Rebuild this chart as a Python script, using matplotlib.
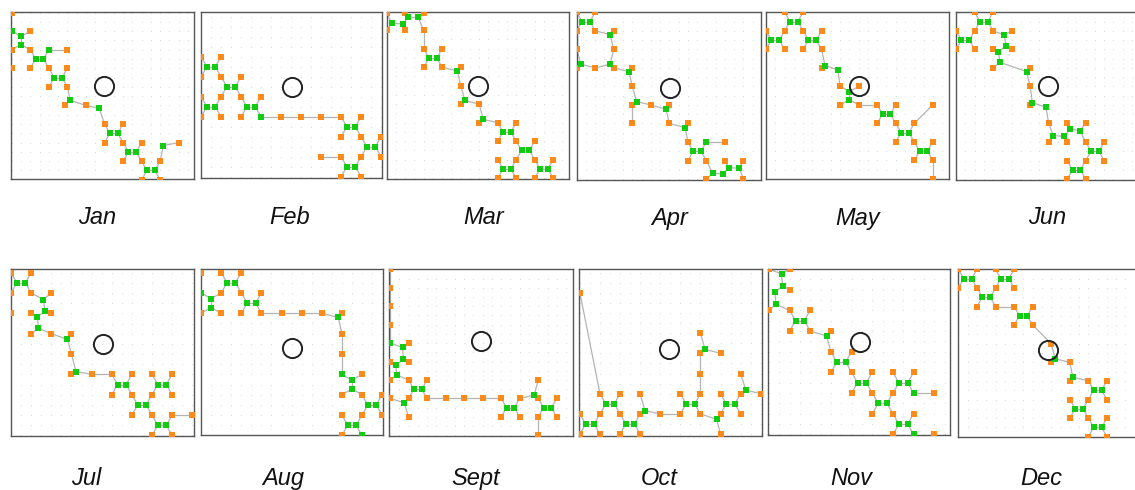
import matplotlib
matplotlib.use("Agg")
import matplotlib.pyplot as plt
import numpy as np

# ---------------- data (lattice units, y grows downward) ----------------
months = ["Jan", "Feb", "Mar", "Apr", "May", "Jun",
          "Jul", "Aug", "Sept", "Oct", "Nov", "Dec"]

# horizontal "X" motifs: two green nodes with four orange corners
h_motifs = {
    "Jan": [(1.5, 2.5), (2.5, 3.5), (5.5, 6.5), (6.5, 7.5), (7.5, 8.5)],
    "Feb": [(0.5, 2.5), (1.5, 3.5), (0.5, 4.5), (2.5, 4.5), (7.5, 5.5), (8.5, 6.5), (7.5, 7.5)],
    "Mar": [(2.5, 2.5), (6.5, 6.5), (7.5, 7.5), (6.5, 8.5), (8.5, 8.5)],
    "Apr": [(0.5, 0.5), (6.5, 7.5)],
    "May": [(1.5, 0.5), (0.5, 1.5), (2.5, 1.5), (6.5, 5.5), (7.5, 6.5), (8.5, 7.5)],
    "Jun": [(1.5, 0.5), (0.5, 1.5), (7.5, 7.5), (6.5, 8.5)],
    "Jul": [(0.5, 0.5), (5.5, 5.5), (7.5, 5.5), (6.5, 6.5), (7.5, 7.5)],
    "Aug": [(1.5, 0.5), (2.5, 1.5), (8.5, 6.5), (7.5, 7.5)],
    "Sept": [(1.5, 6.5), (6.5, 7.5), (8.5, 7.5)],
    "Oct": [(1.5, 6.5), (0.5, 7.5), (2.5, 7.5), (5.5, 6.5), (7.5, 6.5)],
    "Nov": [(1.5, 2.5), (3.5, 4.5), (4.5, 5.5), (5.5, 6.5), (6.5, 5.5), (6.5, 7.5)],
    "Dec": [(0.5, 0.5), (2.5, 0.5), (1.5, 1.5), (3.5, 2.5), (7.5, 6.5), (6.5, 7.5), (7.5, 8.5)],
}

# vertical motifs
v_motifs = {
    "Jan": [(0.5, 1.5)],
    "May": [(4.5, 4.5)],
    "Aug": [(0.5, 1.5), (7.5, 5.5)],
}

extra_green = {
    "Jan": [(0, 1), (2, 2), (3.15, 4.72), (4.72, 5.15), (8.17, 7.16)],
    "Feb": [(3, 5)],
    "Mar": [(0.27, 0.63), (0.86, 0.66), (1.17, 0.31), (1.71, 0.31), (3.82, 3.2), (4.23, 4.8), (5.22, 5.82)],
    "Apr": [(1.8, 1.2), (0.23, 2.8), (1.8, 2.8), (2.82, 3.2), (3.24, 4.82), (4.82, 5.23), (5.85, 6.22),
            (7, 7), (7.34, 8.69), (7.91, 8.72), (8.2, 8.38), (8.78, 8.42)],
    "May": [(3.18, 2.88), (3.87, 3.11)],
    "Jun": [(2.6, 1.22), (2.7, 1.82), (2.28, 2.12), (2.37, 2.7), (3.81, 3.2), (4.12, 4.87), (4.86, 5.13),
            (5.25, 6.65), (5.85, 6.7), (6.15, 6.3), (6.69, 6.38)],
    "Jul": [(1.6, 1.32), (1.69, 1.9), (1.3, 2.16), (1.36, 2.74), (2.8, 3.28), (3.22, 4.86)],
    "Aug": [(0, 1), (7, 5), (6.82, 2.2), (8, 8)],
    "Sept": [(0, 4), (0.68, 4.23), (0.72, 4.88), (0.32, 5.19), (0.36, 5.73), (0.76, 7.23), (7.78, 6.82)],
    "Oct": [(3.24, 6.84), (6.23, 3.8), (6.81, 7.27), (8.26, 5.82)],
    "Nov": [(0.61, 0.24), (0.66, 0.82), (0.29, 1.13), (0.34, 1.71), (2.79, 3.24), (7, 6), (7, 8)],
    "Dec": [(5.21, 4.81), (6.16, 5.8)],
}

extra_orange = {
    "Jan": [(0, 0), (3, 2), (0, 3), (2.87, 4.97), (4, 5), (9, 7)],
    "Feb": [(4, 5), (5, 5), (6, 5), (6, 7)],
    "Mar": [(0, 0.05), (1, 0.05), (2, 0.05), (0, 1), (1, 1), (2, 1), (4, 3), (4, 4), (4, 5), (5, 5), (5, 6)],
    "Apr": [(2, 1), (2, 2), (0, 2), (0, 3), (1, 3), (2, 3), (3, 3), (3, 4), (3, 5), (4, 5), (3, 6),
            (5, 5), (5, 6), (6, 6), (8, 7), (8, 8), (9, 8), (7, 9), (9, 9)],
    "May": [(3, 3), (6, 5), (9, 5), (9, 9)],
    "Jun": [(3, 1), (2, 2), (3, 2), (2, 3), (4, 3), (4, 4), (4, 5), (5, 6), (5, 7), (6, 7), (6, 6), (7, 6)],
    "Jul": [(2, 1), (2, 2), (1, 2), (0, 2), (1, 3), (2, 3), (3, 3), (3, 4), (3, 5), (4, 5), (9, 7)],
    "Aug": [(0, 0), (4, 2), (5, 2), (6, 2), (7, 2), (7, 3), (7, 4)],
    "Sept": [(0, 0), (0, 1), (0, 2), (0, 3), (1, 4), (1, 5), (0, 5), (0, 6), (0, 7), (1, 8),
             (3, 7), (4, 7), (5, 7), (8, 6), (8, 9)],
    "Oct": [(0, 1), (3, 6), (4, 7), (6, 5), (6, 4), (6, 3), (7, 4), (7, 8), (8, 5), (9, 6)],
    "Nov": [(0, 0), (1, 0), (1, 1), (0, 2), (3, 3), (8, 6), (8, 8)],
    "Dec": [(3, 2), (5, 4), (5, 5), (6, 5), (6, 6)],
}

links = {
    "Jan": [((2, 2), (3, 2)), ((3, 4), (3.15, 4.72)), ((3.15, 4.72), (2.87, 4.97)), ((3.15, 4.72), (4, 5)),
            ((4, 5), (4.72, 5.15)), ((4.72, 5.15), (5, 6)), ((8.17, 7.16), (8, 8)), ((8.17, 7.16), (9, 7))],
    "Feb": [((3, 5), (4, 5)), ((4, 5), (5, 5)), ((5, 5), (6, 5)), ((6, 5), (7, 5)), ((6, 7), (7, 7))],
    "Mar": [((0.27, 0.63), (0.86, 0.66)), ((0.86, 0.66), (1.17, 0.31)), ((1.17, 0.31), (1.71, 0.31)),
            ((1.17, 0.31), (1, 0.05)), ((1.71, 0.31), (2, 0.05)), ((1.71, 0.31), (2, 1)),
            ((0.27, 0.63), (0, 1)), ((0.86, 0.66), (1, 1)), ((0.27, 0.63), (0, 0.05)), ((2, 1), (2, 2)),
            ((3, 3), (3.82, 3.2)), ((3.82, 3.2), (4, 3)), ((3.82, 3.2), (4, 4)), ((4, 4), (4.23, 4.8)),
            ((4.23, 4.8), (4, 5)), ((4.23, 4.8), (5, 5)), ((5, 5), (5.22, 5.82)), ((5.22, 5.82), (5, 6)),
            ((5.22, 5.82), (6, 6))],
    "Apr": [((1, 1), (1.8, 1.2)), ((1.8, 1.2), (2, 1)), ((1.8, 1.2), (2, 2)), ((2, 2), (1.8, 2.8)),
            ((1.8, 2.8), (1, 3)), ((1.8, 2.8), (2, 3)), ((1, 3), (0.23, 2.8)), ((0.23, 2.8), (0, 2)),
            ((0.23, 2.8), (0, 3)), ((0, 1), (0, 2)), ((2, 3), (2.82, 3.2)), ((2.82, 3.2), (3, 3)),
            ((2.82, 3.2), (3, 4)), ((3, 4), (3.24, 4.82)), ((3.24, 4.82), (3, 5)), ((3.24, 4.82), (4, 5)),
            ((3, 5), (3, 6)), ((4, 5), (4.82, 5.23)), ((4.82, 5.23), (5, 5)), ((4.82, 5.23), (5, 6)),
            ((5, 6), (5.85, 6.22)), ((5.85, 6.22), (6, 6)), ((5.85, 6.22), (6, 7)), ((7, 7), (8, 7)),
            ((7, 8), (7.34, 8.69)), ((7.34, 8.69), (7.91, 8.72)), ((7.91, 8.72), (8.2, 8.38)),
            ((8.2, 8.38), (8.78, 8.42)), ((8.2, 8.38), (8, 8)), ((8.78, 8.42), (9, 8)),
            ((8.78, 8.42), (9, 9)), ((7.34, 8.69), (7, 9))],
    "May": [((3, 2), (3.18, 2.88)), ((3.18, 2.88), (3, 3)), ((3.18, 2.88), (3.87, 3.11)),
            ((3.87, 3.11), (4, 4)), ((5, 5), (6, 5)), ((8, 6), (9, 5)), ((9, 8), (9, 9))],
    "Jun": [((2, 1), (2.6, 1.22)), ((2.6, 1.22), (3, 1)), ((2.6, 1.22), (2.7, 1.82)), ((2.7, 1.82), (3, 2)),
            ((2.7, 1.82), (2.28, 2.12)), ((2.28, 2.12), (2, 2)), ((2.28, 2.12), (2.37, 2.7)),
            ((2.37, 2.7), (2, 3)), ((2.37, 2.7), (3.81, 3.2)), ((3.81, 3.2), (4, 3)), ((3.81, 3.2), (4, 4)),
            ((4, 4), (4.12, 4.87)), ((4.12, 4.87), (4, 5)), ((4.12, 4.87), (4.86, 5.13)),
            ((4.86, 5.13), (5, 6)), ((5, 6), (5.25, 6.65)), ((5.25, 6.65), (5, 7)),
            ((5.25, 6.65), (5.85, 6.7)), ((5.85, 6.7), (6, 7)), ((5.85, 6.7), (6.15, 6.3)),
            ((6.15, 6.3), (6, 6)), ((6.15, 6.3), (6.69, 6.38)), ((6.69, 6.38), (7, 6)), ((6.69, 6.38), (7, 7))],
    "Jul": [((1, 1), (1.6, 1.32)), ((1.6, 1.32), (2, 1)), ((1.6, 1.32), (1.69, 1.9)), ((1.69, 1.9), (2, 2)),
            ((1.69, 1.9), (1.3, 2.16)), ((1.3, 2.16), (1, 2)), ((1.3, 2.16), (1.36, 2.74)),
            ((1.36, 2.74), (1, 3)), ((1.36, 2.74), (2, 3)), ((2, 3), (2.8, 3.28)), ((2.8, 3.28), (3, 3)),
            ((2.8, 3.28), (3, 4)), ((3, 4), (3.22, 4.86)), ((3.22, 4.86), (3, 5)), ((3.22, 4.86), (4, 5)),
            ((4, 5), (5, 5)), ((8, 7), (9, 7))],
    "Aug": [((3, 2), (4, 2)), ((4, 2), (5, 2)), ((5, 2), (6, 2)), ((6, 2), (6.82, 2.2)), ((6.82, 2.2), (7, 2)),
            ((6.82, 2.2), (7, 3)), ((7, 3), (7, 4)), ((7, 4), (7, 5))],
    "Sept": [((0, 0), (0, 1)), ((0, 1), (0, 2)), ((0, 2), (0, 3)), ((0, 3), (0, 4)), ((0, 4), (0.68, 4.23)),
             ((0.68, 4.23), (1, 4)), ((0.68, 4.23), (0.72, 4.88)), ((0.72, 4.88), (1, 5)),
             ((0.72, 4.88), (0.32, 5.19)), ((0.32, 5.19), (0, 5)), ((0.32, 5.19), (0.36, 5.73)),
             ((0.36, 5.73), (0, 6)), ((0.36, 5.73), (1, 6)), ((1, 7), (0.76, 7.23)), ((0.76, 7.23), (0, 7)),
             ((0.76, 7.23), (1, 8)), ((2, 7), (3, 7)), ((3, 7), (4, 7)), ((4, 7), (5, 7)), ((5, 7), (6, 7)),
             ((7, 7), (7.78, 6.82)), ((7.78, 6.82), (8, 6)), ((7.78, 6.82), (8, 7)), ((8, 8), (8, 9))],
    "Oct": [((0, 1), (1, 6)), ((3, 6), (3.24, 6.84)), ((3.24, 6.84), (3, 7)), ((3.24, 6.84), (4, 7)),
            ((4, 7), (5, 7)), ((6, 6), (6, 5)), ((6, 5), (6, 4)), ((6, 4), (6.23, 3.8)), ((6.23, 3.8), (6, 3)),
            ((6.23, 3.8), (7, 4)), ((6, 7), (6.81, 7.27)), ((6.81, 7.27), (7, 7)), ((6.81, 7.27), (7, 8)),
            ((8, 6), (8.26, 5.82)), ((8.26, 5.82), (8, 5)), ((8.26, 5.82), (9, 6))],
    "Nov": [((0.61, 0.24), (0, 0)), ((0.61, 0.24), (1, 0)), ((0.61, 0.24), (0.66, 0.82)),
            ((0.66, 0.82), (1, 1)), ((0.66, 0.82), (0.29, 1.13)), ((0.29, 1.13), (0.34, 1.71)),
            ((0.34, 1.71), (0, 2)), ((0.34, 1.71), (1, 2)), ((2, 3), (2.79, 3.24)), ((2.79, 3.24), (3, 3)),
            ((2.79, 3.24), (3, 4)), ((7, 6), (8, 6))],
    "Dec": [((2, 2), (3, 2)), ((4, 3), (5, 4)), ((5, 4), (5.21, 4.81)), ((5.21, 4.81), (5, 5)),
            ((5.21, 4.81), (6, 5)), ((6, 5), (6.16, 5.8)), ((6.16, 5.8), (6, 6)), ((6.16, 5.8), (7, 6))],
}

# position of the highlight ring in each panel
rings = {
    "Jan": (4.96, 3.93), "Feb": (4.53, 3.53), "Mar": (4.95, 4.02), "Apr": (5.04, 4.06),
    "May": (5.04, 3.98), "Jun": (4.98, 3.97), "Jul": (4.55, 3.52), "Aug": (4.5, 3.69),
    "Sept": (4.9, 3.89), "Oct": (4.42, 3.8), "Nov": (4.4, 3.52), "Dec": (4.85, 4.33),
}

# visible window of each panel (xmin, xmax, ymax, ymin)
views = {
    "Jan": (-0.04, 9.84, 8.96, -0.05), "Feb": (-0.02, 9.03, 8.08, -0.22),
    "Mar": (0.0, 9.87, 9.06, 0.0), "Apr": (0.0, 9.93, 9.05, 0.0),
    "May": (-0.02, 9.89, 9.02, 0.0), "Jun": (-0.02, 9.77, 9.05, 0.0),
    "Jul": (-0.02, 9.1, 8.03, -0.18), "Aug": (-0.02, 9.06, 7.98, -0.16),
    "Sept": (-0.04, 9.86, 9.02, -0.02), "Oct": (-0.03, 9.05, 8.08, -0.18),
    "Nov": (-0.03, 8.76, 8.03, 0.0), "Dec": (-0.04, 9.62, 9.0, 0.0),
}

# ---------------- layout (pixels) ----------------
W, H = 1135, 490
panel_px = {
    "Jan": (11, 194.3, 11.7, 179), "Feb": (200.7, 381.7, 12.3, 178.3),
    "Mar": (386.7, 569.3, 11.7, 179.3), "Apr": (576.7, 760.7, 12.3, 180),
    "May": (765.7, 949.3, 12.3, 179.3), "Jun": (955.7, 1137, 12.3, 180),
    "Jul": (10.7, 194.3, 269, 436), "Aug": (200.7, 383.3, 269.3, 435),
    "Sept": (389.3, 572.7, 269, 435.7), "Oct": (579.3, 761.7, 269, 435.7),
    "Nov": (768.3, 950, 269, 435), "Dec": (957.7, 1137, 269.3, 436.7),
}
label_px = {
    "Jan": (97, 218), "Feb": (290, 218), "Mar": (484, 218), "Apr": (670, 218),
    "May": (858, 218), "Jun": (1047, 218), "Jul": (86, 478), "Aug": (283, 478),
    "Sept": (476, 478), "Oct": (659, 478), "Nov": (851, 478), "Dec": (1041, 478),
}

ORANGE = "#ff8a1c"
GREEN = "#12cc12"
EDGE = "#b4b4b4"

fig = plt.figure(figsize=(W / 100, H / 100), dpi=100)


def key(p):
    return (round(p[0], 3), round(p[1], 3))


for m in months:
    x0, x1, y0, y1 = panel_px[m]
    ax = fig.add_axes([x0 / W, 1 - y1 / H, (x1 - x0) / W, (y1 - y0) / H])
    xmin, xmax, ymax, ymin = views[m]
    ax.set_xlim(xmin, xmax)
    ax.set_ylim(ymax, ymin)
    ax.set_xticks([])
    ax.set_yticks([])
    for s in ax.spines.values():
        s.set_color("#555555")
        s.set_linewidth(1.0)

    # faint background dot grid
    gx = np.arange(np.ceil(xmin * 2) / 2, xmax, 0.5)
    gy = np.arange(np.ceil(ymin * 2) / 2, ymax, 0.5)
    GX, GY = np.meshgrid(gx, gy)
    ax.scatter(GX.ravel(), GY.ravel(), s=0.6, color="#d6d6d6", linewidths=0, zorder=1)

    nodes = {}
    edges = []

    def add(p, c):
        k = key(p)
        if nodes.get(k) == "g":
            return
        nodes[k] = c

    for (cx, cy) in h_motifs.get(m, []):
        gl = (cx - 0.21, cy)
        gr = (cx + 0.21, cy)
        add(gl, "g")
        add(gr, "g")
        edges.append((gl, gr))
        for dy in (-0.5, 0.5):
            pl = (cx - 0.5, cy + dy)
            pr = (cx + 0.5, cy + dy)
            add(pl, "o")
            add(pr, "o")
            edges.append((gl, pl))
            edges.append((gr, pr))
    for (cx, cy) in v_motifs.get(m, []):
        gt = (cx, cy - 0.22)
        gb = (cx, cy + 0.22)
        add(gt, "g")
        add(gb, "g")
        edges.append((gt, gb))
        for dx in (-0.5, 0.5):
            pt = (cx + dx, cy - 0.5)
            pb = (cx + dx, cy + 0.5)
            add(pt, "o")
            add(pb, "o")
            edges.append((gt, pt))
            edges.append((gb, pb))
    for p in extra_orange.get(m, []):
        add(p, "o")
    for p in extra_green.get(m, []):
        add(p, "g")
    for a, b in links.get(m, []):
        if key(a) not in nodes:
            add(a, "o")
        if key(b) not in nodes:
            add(b, "o")
        edges.append((a, b))

    for a, b in edges:
        ax.plot([a[0], b[0]], [a[1], b[1]], color=EDGE, lw=0.9, zorder=2,
                solid_capstyle="round")

    ox = [k[0] for k, c in nodes.items() if c == "o"]
    oy = [k[1] for k, c in nodes.items() if c == "o"]
    gxs = [k[0] for k, c in nodes.items() if c == "g"]
    gys = [k[1] for k, c in nodes.items() if c == "g"]
    ax.plot(ox, oy, "s", ms=3.8, color=ORANGE, mec=ORANGE, mew=0, zorder=3)
    ax.plot(gxs, gys, "s", ms=3.8, color=GREEN, mec=GREEN, mew=0, zorder=3)

    rx, ry = rings[m]
    ax.plot([rx], [ry], "o", ms=13.8, mfc="none", mec="#222222", mew=1.4, zorder=4)

    lx, ly = label_px[m]
    fig.text(lx / W, 1 - ly / H, m, ha="center", va="center", fontsize=17,
             style="italic", family=["Liberation Sans", "DejaVu Sans"], color="#111111")

fig.savefig("out.png", dpi=100)
